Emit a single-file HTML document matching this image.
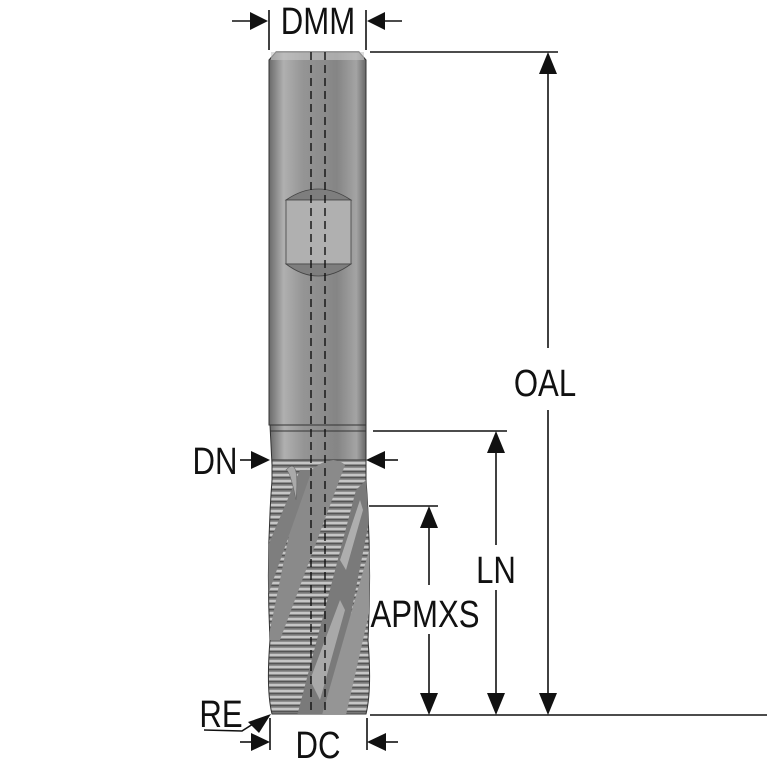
<!DOCTYPE html>
<html><head><meta charset="utf-8"><style>
html,body{margin:0;padding:0;background:#fff;}
svg{display:block;}
text{font-family:"Liberation Sans",sans-serif;font-size:38px;fill:#111;}
</style></head><body>
<svg width="767" height="767" viewBox="0 0 767 767" xmlns="http://www.w3.org/2000/svg">
<defs>
<linearGradient id="sh" x1="0" x2="1" y1="0" y2="0">
<stop offset="0" stop-color="#6a6a6a"/><stop offset="0.15" stop-color="#b0b0b0"/>
<stop offset="0.35" stop-color="#959595"/><stop offset="0.7" stop-color="#858585"/>
<stop offset="0.9" stop-color="#a4a4a4"/><stop offset="1" stop-color="#666"/>
</linearGradient>
<pattern id="ser" width="8" height="6" patternUnits="userSpaceOnUse">
<rect width="8" height="6" fill="#8e8e8e"/><rect y="0" width="8" height="2" fill="#c6c6c6"/><rect y="3" width="8" height="1.4" fill="#555"/>
</pattern>
<clipPath id="fc"><path d="M272 460 L366 460 L366 480 Q372 560 368 640 Q372 690 366 714 L272 714 Q266 690 270 640 Q266 560 272 480 Z"/></clipPath>
</defs>
<path d="M269 60 L276 52 L359 52 L366 60 L366 425 L269 425 Z" fill="url(#sh)" stroke="#333" stroke-width="1"/>
<rect x="271" y="52" width="93" height="8" fill="#c4c4c4" opacity="0.6"/>
<path d="M286 200 Q318 178 351 200 Z" fill="#7e7e7e" stroke="#444" stroke-width="0.8"/>
<rect x="286" y="200" width="65" height="64" fill="#b0b0b0" stroke="#444" stroke-width="0.8"/>
<path d="M286 264 Q318 288 351 264 Z" fill="#7e7e7e" stroke="#444" stroke-width="0.8"/>
<path d="M270 425 L366 425 L366 465 L272 465 Z" fill="url(#sh)" stroke="#333" stroke-width="1"/>
<line x1="270" y1="431" x2="366" y2="431" stroke="#333" stroke-width="1"/>
<path d="M272 460 L366 460 L366 480 Q372 560 368 640 Q372 690 366 714 L272 714 Q266 690 270 640 Q266 560 272 480 Z" fill="url(#ser)" stroke="#333"/>
<g clip-path="url(#fc)">
<path d="M296 720 L356 490 L380 466 L330 720 Z" fill="#7a7a7a"/>
<path d="M300 480 Q330 450 345 465 L280 640 L268 640 Z" fill="#8a8a8a"/>
<path d="M322 715 L372 540 L372 600 L346 715 Z" fill="#959595"/>
<path d="M262 560 L300 470 L312 470 L262 612 Z" fill="#7e7e7e"/>
<path d="M310 680 L340 600 L345 610 L320 700 Z" fill="#bdbdbd" opacity="0.7"/>
<path d="M340 560 L360 500 L363 510 L346 570 Z" fill="#c4c4c4" opacity="0.7"/>
</g>
<path d="M286 470 Q300 455 296 500 Q290 470 286 470Z" fill="#aaa" stroke="#666" stroke-width="0.6"/>
<g stroke="#111" stroke-width="1.4" stroke-dasharray="8,5">
<line x1="311" y1="52" x2="311" y2="712"/><line x1="325" y1="52" x2="325" y2="712"/>
</g>
<g stroke="#111" stroke-width="1.6" fill="none">
<line x1="269" y1="10" x2="269" y2="50"/><line x1="366" y1="10" x2="366" y2="50"/>
<line x1="232" y1="21" x2="250" y2="21"/><line x1="385" y1="21" x2="402" y2="21"/>
<line x1="370" y1="52" x2="558" y2="52"/>
<line x1="548" y1="70" x2="548" y2="348"/><line x1="548" y1="410" x2="548" y2="698"/>
<line x1="373" y1="431" x2="507" y2="431"/>
<line x1="496" y1="450" x2="496" y2="545"/><line x1="496" y1="590" x2="496" y2="698"/>
<line x1="369" y1="506" x2="438" y2="506"/>
<line x1="429" y1="525" x2="429" y2="585"/><line x1="429" y1="634" x2="429" y2="698"/>
<line x1="370" y1="715" x2="767" y2="715"/>
<line x1="240" y1="460" x2="252" y2="460"/><line x1="384" y1="460" x2="398" y2="460"/>
<line x1="270" y1="718" x2="270" y2="750"/><line x1="367" y1="718" x2="367" y2="750"/>
<line x1="240" y1="742" x2="252" y2="742"/><line x1="384" y1="742" x2="398" y2="742"/>
<polyline points="204,730 242,731 256,722"/>
</g>
<g fill="#111">
<polygon points="268,21 250,12 250,30"/><polygon points="367,21 385,12 385,30"/>
<polygon points="548,52 539,74 557,74"/><polygon points="548,715 539,693 557,693"/>
<polygon points="496,431 487,453 505,453"/><polygon points="496,715 487,693 505,693"/>
<polygon points="429,506 420,528 438,528"/><polygon points="429,715 420,693 438,693"/>
<polygon points="270,460 251,451 251,469"/><polygon points="366,460 385,451 385,469"/>
<polygon points="270,742 251,733 251,751"/><polygon points="367,742 386,733 386,751"/>
<polygon points="271,714 248,722 259,733"/>
</g>
<g>
<text x="318" y="34" text-anchor="middle" transform="translate(318 0) scale(0.82 1) translate(-318 0)">DMM</text>
<text x="545" y="396" text-anchor="middle" transform="translate(545 0) scale(0.82 1) translate(-545 0)">OAL</text>
<text x="496" y="583" text-anchor="middle" transform="translate(496 0) scale(0.82 1) translate(-496 0)">LN</text>
<text x="425" y="627" text-anchor="middle" transform="translate(425 0) scale(0.82 1) translate(-425 0)">APMXS</text>
<text x="215" y="474" text-anchor="middle" transform="translate(215 0) scale(0.82 1) translate(-215 0)">DN</text>
<text x="318" y="758" text-anchor="middle" transform="translate(318 0) scale(0.82 1) translate(-318 0)">DC</text>
<text x="221" y="727" text-anchor="middle" transform="translate(221 0) scale(0.82 1) translate(-221 0)">RE</text>
</g>
</svg>
</body></html>
